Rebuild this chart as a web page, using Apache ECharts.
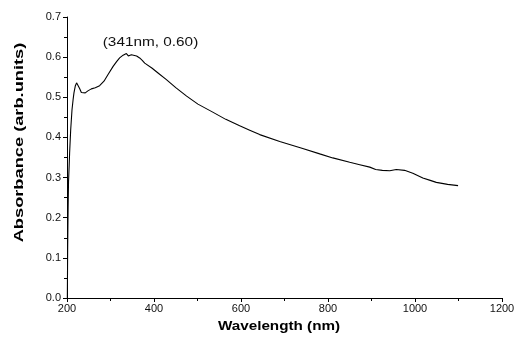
<!DOCTYPE html>
<html>
<head>
<meta charset="utf-8">
<script src="https://cdn.jsdelivr.net/npm/echarts@6/dist/echarts.min.js"></script>
<style>html,body{margin:0;padding:0;background:#fff}#c{width:518px;height:337px}</style>
</head>
<body>
<div id="c"></div>
<script>
var wavelengths = [200.8, 201.5, 202.5, 203.5, 205, 206, 208.5, 211.5, 214, 216, 219, 222, 225, 229, 233, 237, 242, 248, 256, 265, 275, 285, 294, 306, 314, 321, 329, 336.5, 339, 341, 344, 348, 352, 360, 367, 373, 378.6, 383, 395, 410, 428.5, 450, 475, 501, 535, 565, 597, 620, 643, 689, 740, 781, 811, 850, 873, 896, 909.6, 925, 942, 957, 976, 995, 1018, 1035, 1049, 1075, 1099];
var absorbance = [0.0, 0.12, 0.22, 0.29, 0.33, 0.361, 0.419, 0.469, 0.494, 0.511, 0.528, 0.536, 0.533, 0.522, 0.512, 0.508, 0.511, 0.516, 0.521, 0.524, 0.529, 0.540, 0.556, 0.577, 0.589, 0.598, 0.605, 0.609, 0.607, 0.603, 0.605, 0.606, 0.606, 0.603, 0.598, 0.592, 0.585, 0.583, 0.573, 0.560, 0.544, 0.524, 0.503, 0.483, 0.463, 0.445, 0.429, 0.418, 0.407, 0.390, 0.373, 0.359, 0.349, 0.338, 0.332, 0.326, 0.320, 0.318, 0.317, 0.320, 0.318, 0.311, 0.299, 0.293, 0.288, 0.283, 0.280];
var xTicks = [200, 400, 600, 800, 1000, 1200];
var yTicks = [0.0, 0.1, 0.2, 0.3, 0.4, 0.5, 0.6, 0.7];
var peakLabel = '(341nm, 0.60)';
var xTitle = 'Wavelength (nm)';
var yTitle = 'Absorbance (arb.units)';

var data = wavelengths.map(function (w, i) { return [w, absorbance[i]]; });
var chart = echarts.init(document.getElementById('c'), null, {renderer: 'canvas'});
var font = 'Liberation Sans, Arial, sans-serif';
chart.setOption({
  animation: false,
  backgroundColor: '#fff',
  grid: {left: 67, right: 16, top: 17, bottom: 39, containLabel: false, outerBoundsMode: 'none'},
  xAxis: {
    type: 'value', min: xTicks[0], max: xTicks[xTicks.length - 1], interval: 200,
    axisLine: {show: true, lineStyle: {color: '#000', width: 1}},
    axisTick: {show: true, length: 4, lineStyle: {color: '#000'}},
    minorTick: {show: true, splitNumber: 2, length: 3, lineStyle: {color: '#000'}},
    axisLabel: {fontFamily: font, fontSize: 11, color: '#111', margin: 5,
      formatter: function (v) { return String(v); }},
    splitLine: {show: false}
  },
  yAxis: {
    type: 'value', min: 0, max: 0.7, interval: 0.1,
    axisLine: {show: true, lineStyle: {color: '#000', width: 1}},
    axisTick: {show: true, length: 4, lineStyle: {color: '#000'}},
    minorTick: {show: true, splitNumber: 2, length: 3, lineStyle: {color: '#000'}},
    axisLabel: {fontFamily: font, fontSize: 11, color: '#111', margin: 6,
      formatter: function (v) { return v.toFixed(1); }},
    splitLine: {show: false}
  },
  graphic: [{
    type: 'text', x: 150.5, y: 42, scaleX: 1.18,
    style: {text: peakLabel, font: '13px ' + font, fill: '#111', align: 'center', verticalAlign: 'middle'}
  }, {
    type: 'text', x: 279, y: 327, scaleX: 1.27,
    style: {text: xTitle, font: 'bold 12px ' + font, fill: '#000', align: 'center', verticalAlign: 'middle'}
  }, {
    type: 'text', x: 20, y: 142.5, scaleX: 1.52, rotation: Math.PI / 2,
    style: {text: yTitle, font: 'bold 12px ' + font, fill: '#000', align: 'center', verticalAlign: 'middle'}
  }],
  series: [{
    type: 'line', data: data, showSymbol: false, smooth: false,
    lineStyle: {color: '#000', width: 1.1}
  }]
});
</script>
</body>
</html>
